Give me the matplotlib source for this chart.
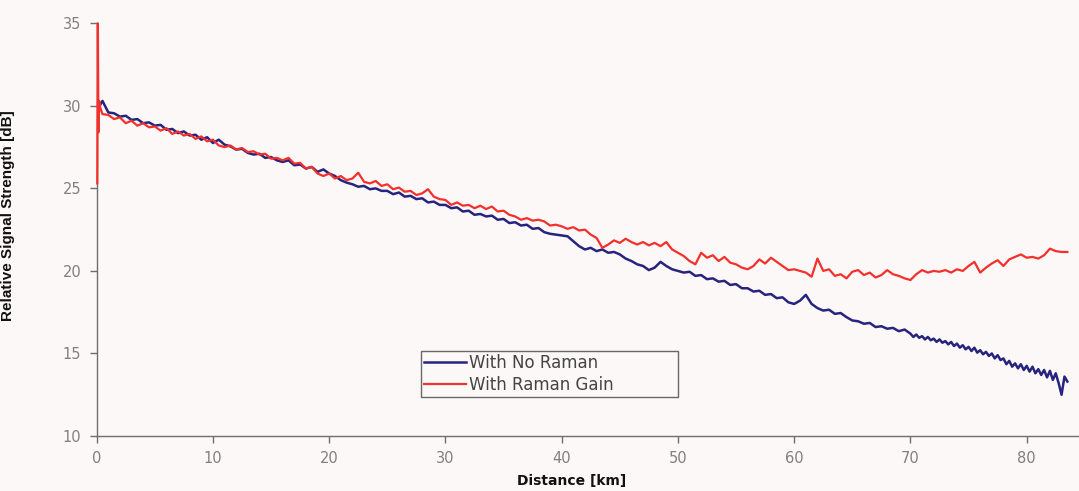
import numpy as np
import matplotlib
matplotlib.use('Agg')
import matplotlib.pyplot as plt

# Trace values (dB)
# No-Raman trace: 0.5 km samples up to 70 km, 0.25 km in the noisy tail
BLUE_KM = np.concatenate([np.arange(0.0, 70.0, 0.5), np.arange(70.0, 83.6, 0.25)])
BLUE_DB = [
    29.7, 30.3, 29.6, 29.55, 29.35, 29.4, 29.15, 29.2, 28.95, 29.0,
    28.8, 28.85, 28.55, 28.6, 28.35, 28.45, 28.2, 28.25, 27.95, 28.1,
    27.75, 27.95, 27.65, 27.55, 27.35, 27.4, 27.15, 27.05, 27.1, 26.85,
    26.9, 26.7, 26.6, 26.7, 26.4, 26.45, 26.2, 26.3, 26.0, 26.15,
    25.9, 25.75, 25.5, 25.35, 25.25, 25.1, 25.15, 24.95, 25.0, 24.85,
    24.85, 24.65, 24.75, 24.5, 24.55, 24.35, 24.4, 24.15, 24.2, 24.0,
    24.0, 23.8, 23.85, 23.6, 23.65, 23.4, 23.45, 23.3, 23.35, 23.1,
    23.15, 22.9, 22.95, 22.75, 22.8, 22.55, 22.6, 22.35, 22.25, 22.2,
    22.15, 22.1, 21.8, 21.5, 21.3, 21.4, 21.2, 21.3, 21.1, 21.15,
    21.0, 20.75, 20.6, 20.4, 20.3, 20.05, 20.2, 20.55, 20.3, 20.1,
    20.0, 19.9, 19.95, 19.7, 19.75, 19.5, 19.55, 19.35, 19.4, 19.15,
    19.2, 18.95, 18.95, 18.75, 18.8, 18.55, 18.6, 18.35, 18.4, 18.1,
    18.0, 18.2, 18.55, 18.0, 17.75, 17.6, 17.65, 17.4, 17.45, 17.2,
    17.0, 16.95, 16.8, 16.85, 16.6, 16.65, 16.5, 16.55, 16.35, 16.45,
    # 70 km onwards, every 0.25 km
    16.2, 16.0, 16.15, 15.95, 16.05, 15.85, 16.0, 15.8,
    15.9, 15.7, 15.85, 15.65, 15.75, 15.55, 15.7, 15.45,
    15.6, 15.35, 15.5, 15.25, 15.4, 15.15, 15.35, 15.05,
    15.2, 14.95, 15.1, 14.85, 15.0, 14.7, 14.9, 14.6,
    14.7, 14.35, 14.55, 14.2, 14.4, 14.1, 14.35, 14.0,
    14.25, 13.9, 14.2, 13.8, 14.05, 13.7, 14.0, 13.55,
    13.95, 13.4, 13.8, 13.2, 12.5, 13.6, 13.3,
]

# Raman trace: launch spike at 0 km, then the 0.5 km samples
RED_SPIKE_KM = [0.05, 0.1, 0.15, 0.22, 0.3]
RED_SPIKE_DB = [25.3, 35.0, 28.4, 30.3, 29.9]
RED_KM = np.arange(0.5, 84.0, 0.5)
RED_DB = [
    29.5, 29.45, 29.2, 29.3, 28.95, 29.1, 28.8, 28.95, 28.7,
    28.75, 28.5, 28.65, 28.3, 28.45, 28.2, 28.3, 28.0, 28.15, 27.85,
    27.95, 27.6, 27.5, 27.6, 27.35, 27.45, 27.2, 27.25, 27.05, 27.1,
    26.8, 26.85, 26.7, 26.85, 26.5, 26.55, 26.2, 26.3, 25.9, 25.75,
    25.9, 25.6, 25.75, 25.5, 25.6, 25.95, 25.4, 25.3, 25.45, 25.15,
    25.25, 24.95, 25.05, 24.8, 24.85, 24.6, 24.7, 24.95, 24.5, 24.35,
    24.3, 24.0, 24.15, 23.95, 24.0, 23.8, 23.95, 23.75, 23.9, 23.6,
    23.65, 23.4, 23.3, 23.1, 23.2, 23.05, 23.1, 23.0, 22.75, 22.8,
    22.7, 22.55, 22.65, 22.45, 22.5, 22.2, 22.0, 21.4, 21.6, 21.85,
    21.7, 21.95, 21.75, 21.6, 21.75, 21.55, 21.7, 21.5, 21.75, 21.3,
    21.1, 20.9, 20.6, 20.4, 21.1, 20.8, 20.95, 20.6, 20.85, 20.5,
    20.4, 20.2, 20.1, 20.3, 20.7, 20.45, 20.8, 20.55, 20.3, 20.05,
    20.1, 20.0, 19.9, 19.65, 20.75, 20.0, 20.1, 19.7, 19.8, 19.55,
    19.95, 20.05, 19.75, 19.9, 19.6, 19.75, 20.05, 19.8, 19.7, 19.55,
    19.45, 19.8, 20.05, 19.9, 20.0, 19.95, 20.05, 19.9, 20.1, 20.0,
    20.3, 20.55, 19.9, 20.2, 20.45, 20.65, 20.3, 20.7, 20.85, 21.0,
    20.8, 20.85, 20.75, 20.95, 21.35, 21.2, 21.15, 21.15,
]

X_TICKS = [0, 10, 20, 30, 40, 50, 60, 70, 80]
Y_TICKS = [10, 15, 20, 25, 30, 35]

BG = '#fbf8f7'
BLUE = '#27247f'
RED = '#f3302b'
AXIS_GREY = '#6e6e6e'

fig = plt.figure(figsize=(10.79, 4.91), dpi=100, facecolor=BG)
ax = fig.add_axes([0.0896, 0.112, 0.9104, 0.8405], facecolor=BG)

red_km = list(RED_SPIKE_KM) + list(RED_KM)
red_db = list(RED_SPIKE_DB) + list(RED_DB)

ax.plot(BLUE_KM, BLUE_DB, color=BLUE, linewidth=1.8, label='With No Raman', zorder=3)
ax.plot(red_km, red_db, color=RED, linewidth=1.6, label='With Raman Gain', zorder=4,
        clip_on=False)

ax.set_xlim(0, 84.5)
ax.set_ylim(10, 35)
ax.set_xticks(X_TICKS)
ax.set_yticks(Y_TICKS)

# Excel-style axes: only left/bottom, grey, outward ticks
for side in ['top', 'right']:
    ax.spines[side].set_visible(False)
for side in ['left', 'bottom']:
    ax.spines[side].set_color(AXIS_GREY)
    ax.spines[side].set_linewidth(1.0)
    ax.spines[side].set_zorder(2)
ax.tick_params(direction='out', length=5, width=1, color=AXIS_GREY,
               labelcolor='#808080', labelsize=10.5, pad=6)
for lbl in ax.get_xticklabels() + ax.get_yticklabels():
    lbl.set_family('DejaVu Sans')

ax.set_xlabel('Distance [km]', fontsize=10, fontweight='bold',
              family='DejaVu Sans', color='#111111')
ax.xaxis.set_label_coords(0.484, -0.092)
ax.set_ylabel('Relative Signal Strength [dB]', fontsize=11, fontweight='bold',
              family=['Liberation Sans Narrow', 'Liberation Sans'], color='#111111')
ax.yaxis.set_label_coords(-0.083, 0.535)

# legend box stretched to the width it has in the original
leg = ax.legend(loc='upper left', bbox_to_anchor=(0.3297, 0.206, 0.262, 0.0),
                mode='expand', borderaxespad=0, fancybox=False, frameon=True,
                handlelength=2.5, handletextpad=0.2, borderpad=0.2, labelspacing=0.2,
                prop={'family': 'DejaVu Sans', 'size': 12})
leg.get_frame().set_edgecolor('#444444')
leg.get_frame().set_linewidth(1.0)
leg.get_frame().set_facecolor(BG)
for txt in leg.get_texts():
    txt.set_color('#444444')

fig.savefig('out.png', dpi=100, facecolor=BG)
